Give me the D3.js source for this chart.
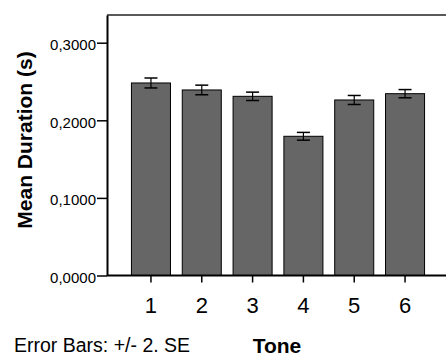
<!DOCTYPE html>
<html>
<head>
<meta charset="utf-8" />
<title>Mean Duration by Tone</title>
<script src="https://d3js.org/d3.v7.min.js"></script>
<style>
  body { margin: 0; background: #fff; }
  text { font-family: "Liberation Sans", Arial, sans-serif; }
</style>
</head>
<body>
<script type="text/javascript">
    var tones = ['1', '2', '3', '4', '5', '6'];
    var means = [0.2481, 0.2391, 0.2309, 0.1794, 0.2262, 0.2343];
    var errs = [0.0064, 0.0062, 0.0054, 0.0050, 0.0058, 0.0053];   // +/- 2 SE
    var yTicks = [0, 0.1, 0.2, 0.3];

    var width = 446, height = 356;
    var plotL = 107, plotT = 15, plotB = 275.5, plotR = 449;

    var svg = d3.select('body')
        .append('svg')
        .attr('width', width)
        .attr('height', height);

    var x = d3.scaleBand()
        .domain(tones)
        .range([plotL, plotR])
        .paddingInner(0.232)
        .paddingOuter(0.481);

    var y = d3.scaleLinear()
        .domain([0, 0.3357])
        .range([plotB, plotT]);

    // bars
    svg.selectAll('.bar')
        .data(means)
        .enter()
        .append('rect')
        .attr('class', 'bar')
        .attr('x', function (d, i) { return x(tones[i]); })
        .attr('y', function (d) { return y(d); })
        .attr('width', x.bandwidth())
        .attr('height', function (d) { return y(0) - y(d); })
        .attr('fill', '#666666')
        .attr('stroke', '#000')
        .attr('stroke-width', 1);

    // error bars
    var eb = svg.selectAll('.err')
        .data(means)
        .enter()
        .append('g')
        .attr('class', 'err')
        .attr('transform', function (d, i) {
            return 'translate(' + (x(tones[i]) + x.bandwidth() / 2) + ',0)';
        });
    eb.append('line')
        .attr('y1', function (d, i) { return y(d + errs[i]); })
        .attr('y2', function (d, i) { return y(d - errs[i]); })
        .attr('stroke', '#000').attr('stroke-width', 1.2);
    eb.append('line')
        .attr('x1', -6.5).attr('x2', 6.5)
        .attr('y1', function (d, i) { return y(d + errs[i]); })
        .attr('y2', function (d, i) { return y(d + errs[i]); })
        .attr('stroke', '#000').attr('stroke-width', 1.5);
    eb.append('line')
        .attr('x1', -6.5).attr('x2', 6.5)
        .attr('y1', function (d, i) { return y(d - errs[i]); })
        .attr('y2', function (d, i) { return y(d - errs[i]); })
        .attr('stroke', '#000').attr('stroke-width', 1.5);

    // frame top
    svg.append('line')
        .attr('x1', plotL).attr('x2', width)
        .attr('y1', plotT).attr('y2', plotT)
        .attr('stroke', '#222').attr('stroke-width', 1.6);

    // y axis
    var fmt = function (d) { return d3.format('.4f')(d).replace('.', ','); };
    var yAxis = svg.append('g')
        .attr('transform', 'translate(' + plotL + ',0)')
        .call(d3.axisLeft(y).tickValues(yTicks).tickFormat(fmt)
            .tickSize(10).tickSizeOuter(0).tickPadding(1));
    yAxis.select('.domain').attr('stroke-width', 2);
    yAxis.selectAll('.tick line').attr('stroke-width', 1.5);
    yAxis.selectAll('.tick text')
        .attr('font-size', 15)
        .attr('dy', '0.45em')
        .attr('font-family', '"Liberation Sans", Arial, sans-serif');

    // x axis
    var xAxis = svg.append('g')
        .attr('transform', 'translate(0,' + plotB + ')')
        .call(d3.axisBottom(x).tickSize(7).tickSizeOuter(0).tickPadding(15));
    xAxis.select('.domain').attr('d', 'M' + plotL + ',0H' + width).attr('stroke-width', 2);
    xAxis.selectAll('.tick line').attr('stroke-width', 1.5);
    xAxis.selectAll('.tick text')
        .attr('font-size', 22)
        .attr('font-family', '"Liberation Sans", Arial, sans-serif');

    // titles
    svg.append('text')
        .attr('transform', 'translate(32,140) rotate(-90)')
        .attr('text-anchor', 'middle')
        .attr('font-size', 21)
        .attr('font-weight', 'bold')
        .text('Mean Duration (s)');

    svg.append('text')
        .attr('x', 277).attr('y', 353)
        .attr('text-anchor', 'middle')
        .attr('font-size', 21)
        .attr('font-weight', 'bold')
        .text('Tone');

    svg.append('text')
        .attr('x', 14).attr('y', 352)
        .attr('font-size', 19.5)
        .text('Error Bars: +/- 2. SE');
</script>
</body>
</html>
